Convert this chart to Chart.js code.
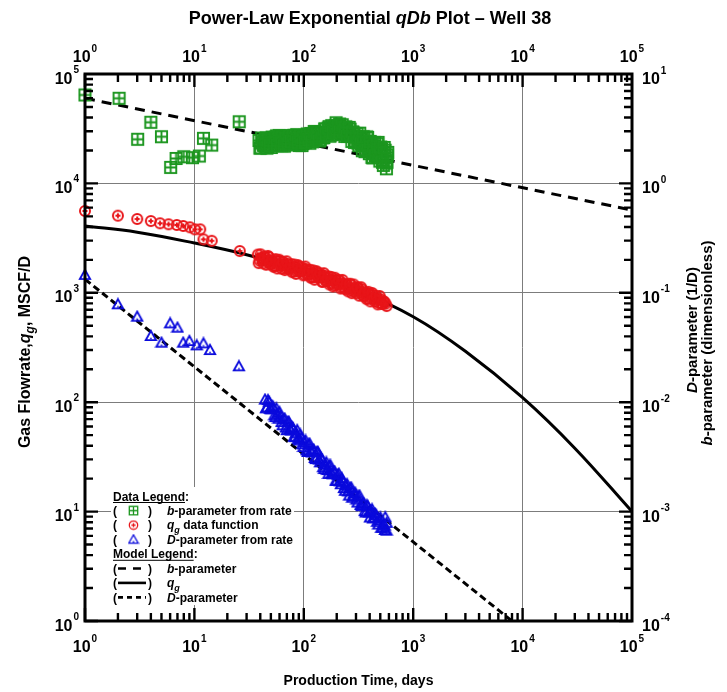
<!DOCTYPE html>
<html>
<head>
<meta charset="utf-8">
<script src="https://cdn.jsdelivr.net/npm/chart.js@4.4.1/dist/chart.umd.min.js"></script>
<style>
  html, body { margin: 0; padding: 0; background: #fff; }
  canvas { display: block; }
</style>
</head>
<body>
<canvas id="qdb" width="727" height="692"></canvas>
<script>
const FONT = "'Liberation Sans', Arial, Helvetica, sans-serif";
const GREEN = '#1c961f';
const RED = '#e81519';
const BLUE = '#0a0adc';

// q_g data function, MSCF/D (left axis)
const rateDays = [1, 2, 3, 4, 4.85, 5.8, 6.9, 7.9, 9.1, 10.1, 11.3, 12.1, 14.4, 26,
  38.0, 39.5, 41.1, 42.8, 44.5, 46.2, 48.1, 50.0, 52.0, 54.1,
  56.2, 58.5, 60.8, 63.2, 65.8, 68.4, 71.1, 74.0, 76.9, 80.0,
  83.2, 86.5, 89.9, 93.5, 97.2, 101.2, 105.2, 109.4, 113.8, 118.3,
  123.0, 127.9, 133.0, 138.4, 143.9, 149.6, 155.6, 161.8, 168.3, 175.0,
  182.0, 189.2, 196.8, 204.6, 212.8, 221.3, 230.1, 239.3, 248.9, 258.8,
  269.2, 279.9, 291.1, 302.7, 314.8, 327.3, 340.4, 354.0, 368.1, 382.8,
  398.1, 414.0, 430.5, 447.7, 465.6, 484.2, 503.5, 523.6, 544.5, 571.5,
  38.7, 40.3, 41.9, 43.6, 45.3, 47.1, 49.0, 51.0, 53.0, 55.1,
  57.3, 59.6, 62.0, 64.5, 67.1, 69.7, 72.5, 75.4, 78.4, 81.6,
  84.8, 88.2, 91.7, 95.3, 99.2, 103.2, 107.3, 111.6, 116.0, 120.6,
  125.4, 130.4, 135.7, 141.1, 146.7, 152.6, 158.7, 165.0, 171.6, 178.5,
  185.6, 193.0, 200.7, 208.7, 217.0, 225.7, 234.7, 244.1, 253.8, 264.0,
  274.5, 285.5, 296.8, 308.7, 321.0, 333.8, 347.1, 361.0, 375.4, 390.4,
  406.0, 422.2, 439.0, 456.6, 474.8, 493.8, 513.5, 534.0, 557.8];
const rateValues = [5600, 5070, 4730, 4530, 4320, 4230, 4170, 4080, 3970, 3800, 3800, 3080, 2990, 2410,
  2234, 1968, 2084, 1858, 2109, 1923, 2113, 1820, 1928, 1758,
  1950, 1778, 1950, 1660, 1820, 1679, 1845, 1702, 1824, 1570,
  1722, 1570, 1742, 1570, 1663, 1472, 1648, 1483, 1622, 1393,
  1507, 1384, 1531, 1377, 1455, 1265, 1432, 1288, 1409, 1225,
  1306, 1175, 1315, 1197, 1294, 1125, 1216, 1081, 1194, 1086,
  1189, 1033, 1104, 991, 1104, 1000, 1076, 931, 1002, 887,
  977, 885, 953, 834, 887, 813, 875, 793, 824, 757,
  1869, 2246, 2002, 2145, 1805, 2173, 1851, 1984, 1728, 2030,
  1669, 2007, 1788, 1917, 1613, 1941, 1654, 1772, 1544, 1813,
  1491, 1792, 1598, 1712, 1444, 1738, 1476, 1578, 1371, 1607,
  1317, 1578, 1403, 1500, 1259, 1510, 1282, 1371, 1191, 1395,
  1143, 1371, 1219, 1303, 1094, 1312, 1114, 1190, 1033, 1211,
  993, 1191, 1058, 1127, 942, 1125, 951, 1012, 875, 1021,
  834, 995, 881, 938, 783, 935, 791, 841, 796];

// b-parameter from rate, dimensionless (right axis)
const bDays = [1, 2.05, 3.03, 4.0, 5.0, 6.07, 6.8, 8.0, 9.6, 11.1, 12.1, 14.4, 25.7,
  39.0, 40.5, 42.0, 43.6, 45.2, 46.9, 48.6, 50.5, 52.4, 54.3,
  56.4, 58.5, 60.7, 63.0, 65.3, 67.8, 70.3, 72.9, 75.7, 78.5,
  81.5, 84.5, 87.7, 91.0, 94.4, 98.0, 101.6, 105.4, 109.4, 113.5,
  117.8, 122.2, 126.8, 131.5, 136.5, 141.6, 146.9, 152.4, 158.1, 164.1,
  170.2, 176.6, 183.2, 190.1, 197.2, 204.6, 212.3, 220.3, 228.6, 237.1,
  246.0, 255.3, 264.8, 274.8, 285.1, 295.8, 306.9, 318.4, 330.4, 342.8,
  355.6, 368.9, 382.8, 397.2, 412.1, 427.6, 443.6, 460.3, 477.5, 495.5,
  514.0, 533.3, 553.4, 568.9, 579.4, 575.4,
  39.7, 41.2, 42.8, 44.4, 46.0, 47.8, 49.5, 51.4, 53.3, 55.3,
  57.4, 59.6, 61.8, 64.1, 66.5, 69.0, 71.6, 74.3, 77.1, 80.0,
  83.0, 86.1, 89.3, 92.7, 96.2, 99.8, 103.5, 107.4, 111.4, 115.6,
  120.0, 124.5, 129.1, 134.0, 139.0, 144.2, 149.6, 155.2, 161.1, 167.1,
  173.4, 179.9, 186.6, 193.6, 200.9, 208.4, 216.3, 224.4, 232.8, 241.5,
  250.6, 260.0, 269.8, 279.9, 290.4, 301.3, 312.6, 324.3, 336.5, 349.1,
  362.2, 375.8, 389.9, 404.6, 419.8, 435.5, 451.9, 468.8, 486.4, 504.7,
  523.6, 543.3, 563.6, 584.8];
const bValues = [6.43, 6.0, 2.53, 3.62, 2.67, 1.40, 1.69, 1.75, 1.72, 1.78, 2.58, 2.24, 3.66,
  2.47, 2.11, 2.38, 2.23, 2.61, 2.18, 2.49, 2.13, 2.60, 2.36,
  2.72, 2.28, 2.54, 2.21, 2.69, 2.35, 2.61, 2.25, 2.53, 2.31,
  2.75, 2.40, 2.67, 2.22, 2.61, 2.31, 2.75, 2.42, 2.72, 2.33,
  2.68, 2.47, 2.96, 2.61, 2.92, 2.51, 2.92, 2.63, 3.14, 2.81,
  3.30, 2.77, 3.21, 2.94, 3.58, 2.96, 3.49, 2.85, 3.22, 2.69,
  3.22, 2.79, 3.13, 2.42, 2.89, 2.39, 2.86, 2.21, 2.58, 1.99,
  2.62, 2.04, 2.63, 1.87, 2.25, 1.71, 2.37, 1.80, 2.37, 1.60,
  2.06, 1.46, 2.01, 1.36, 1.82, 1.56,
  2.10, 2.60, 2.23, 2.54, 2.10, 2.48, 2.22, 2.65, 2.35, 2.65,
  2.22, 2.74, 2.34, 2.66, 2.19, 2.58, 2.30, 2.74, 2.42, 2.72,
  2.26, 2.79, 2.38, 2.71, 2.22, 2.62, 2.36, 2.83, 2.52, 2.86,
  2.40, 2.98, 2.56, 2.94, 2.44, 2.90, 2.61, 3.15, 2.81, 3.21,
  2.70, 3.37, 2.92, 3.36, 2.80, 3.34, 2.94, 3.44, 2.98, 3.29,
  2.69, 3.25, 2.69, 2.96, 2.37, 2.70, 2.34, 2.88, 2.29, 2.67,
  1.95, 2.66, 2.01, 2.42, 1.73, 2.19, 1.79, 2.30, 1.83, 2.15,
  1.56, 2.13, 1.61, 1.92];

// D-parameter from rate, 1/D (right axis)
const dDays = [1, 2.0, 3.0, 4.0, 5.0, 6.0, 7.0, 7.9, 9.0, 10.5, 12.1, 13.9, 25.5,
  44.2, 46.1, 48.2, 50.4, 52.6, 55.0, 57.4, 60.0, 62.7, 65.5,
  68.4, 71.4, 74.6, 78.0, 81.5, 85.1, 88.9, 92.9, 97.0, 101.4,
  105.9, 110.7, 115.6, 120.8, 126.2, 131.8, 137.7, 143.9, 150.3, 157.0,
  164.1, 171.4, 179.1, 187.1, 195.4, 204.2, 213.3, 222.8, 232.8, 243.2,
  254.1, 265.5, 277.3, 289.7, 302.7, 316.2, 330.4, 345.1, 360.6, 376.7,
  393.6, 411.1, 429.5, 448.7, 468.8, 489.8, 511.7, 534.6, 552.1, 556, 571,
  45.1, 47.1, 49.2, 51.5, 53.8, 56.2, 58.7, 61.3, 64.1, 67.0,
  70.0, 73.1, 76.4, 79.8, 83.4, 87.1, 91.0, 95.1, 99.3, 103.8,
  108.4, 113.3, 118.3, 123.6, 129.2, 134.9, 141.0, 147.3, 153.9, 160.8,
  168.0, 175.5, 183.3, 191.5, 200.1, 209.1, 218.4, 228.2, 238.4, 249.0,
  260.2, 271.8, 284.0, 296.7, 309.9, 323.8, 338.3, 353.4, 369.2, 385.7,
  403.0, 421.0, 439.8, 459.5, 480.1, 501.6, 524.0, 547.4, 571.9];
const dValues = [0.146, 0.0785, 0.0605, 0.0403, 0.035, 0.0526, 0.048, 0.035, 0.0363, 0.0331, 0.0345, 0.030, 0.0213,
  0.01057, 0.00899, 0.01009, 0.00859, 0.00899, 0.00731, 0.00783, 0.00811, 0.00659, 0.00698,
  0.00587, 0.00661, 0.00569, 0.00589, 0.00484, 0.00525, 0.00462, 0.00507, 0.00412, 0.00432,
  0.00363, 0.00412, 0.00355, 0.00367, 0.00309, 0.00351, 0.00299, 0.00309, 0.00254, 0.00272,
  0.00240, 0.00264, 0.00222, 0.00232, 0.00191, 0.00217, 0.00189, 0.00202, 0.00164, 0.00174,
  0.00153, 0.00164, 0.00134, 0.00147, 0.00129, 0.00138, 0.00115, 0.00119, 0.00101, 0.00114,
  0.00098, 0.00102, 0.000865, 0.000959, 0.000807, 0.000836, 0.000711, 0.000771, 0.000679, 0.000889, 0.00067,
  0.00879, 0.01045, 0.00869, 0.00920, 0.00757, 0.00879, 0.00706, 0.00740, 0.00615, 0.00706,
  0.00555, 0.00661, 0.00550, 0.00582, 0.00479, 0.00556, 0.00447, 0.00468, 0.00389, 0.00447,
  0.00351, 0.00417, 0.00347, 0.00367, 0.00302, 0.00351, 0.00282, 0.00295, 0.00245, 0.00282,
  0.00221, 0.00264, 0.00219, 0.00232, 0.00191, 0.00222, 0.00178, 0.00187, 0.00155, 0.00178,
  0.00140, 0.00166, 0.00138, 0.00147, 0.00121, 0.00140, 0.00112, 0.00118, 0.00098, 0.00112,
  0.000883, 0.00105, 0.000875, 0.000927, 0.000762, 0.000885, 0.000711, 0.000745, 0.000789];

// Power-law exponential model curves
const qModelDays = [1, 3, 10, 30, 100, 300, 1000, 3000, 10000, 30000, 100000];
const qModelRate = [4080, 3580, 2850, 2230, 1590, 1070, 604, 292, 110, 38, 10];
const bModelDays = [1, 100000];
const bModelValue = [6.0, 0.57];
const dModelDays = [1, 8000];
const dModelValue = [0.133, 0.0001];

// Decade labels (powers of ten) for each axis
const timeTickExponents = [0, 1, 2, 3, 4, 5];
const rateTickExponents = [0, 1, 2, 3, 4, 5];
const paramTickExponents = [-4, -3, -2, -1, 0, 1];

function pairs(xs, ys) {
  return xs.map((x, i) => ({ x: x, y: ys[i] }));
}

// Marker glyphs: open square with cross, open circle with plus, open triangle with dot
function makeMarker(kind, size, lw) {
  const c = document.createElement('canvas');
  c.width = size; c.height = size;
  const g = c.getContext('2d');
  const m = size / 2;
  g.lineWidth = lw;
  if (kind === 'square') {
    const h = m - lw;
    g.strokeStyle = GREEN;
    g.strokeRect(m - h, m - h, 2 * h, 2 * h);
    g.beginPath();
    g.moveTo(m, m - h); g.lineTo(m, m + h);
    g.moveTo(m - h, m); g.lineTo(m + h, m);
    g.stroke();
  } else if (kind === 'circle') {
    const r = m - lw;
    g.strokeStyle = RED;
    g.beginPath(); g.arc(m, m, r, 0, Math.PI * 2); g.stroke();
    const p = r * 0.5;
    g.beginPath();
    g.moveTo(m - p, m); g.lineTo(m + p, m);
    g.moveTo(m, m - p); g.lineTo(m, m + p);
    g.stroke();
  } else {
    const t = lw;
    g.strokeStyle = BLUE;
    g.beginPath();
    g.moveTo(m, t); g.lineTo(size - t, size - t - 1); g.lineTo(t, size - t - 1); g.closePath();
    g.stroke();
    g.fillStyle = BLUE;
    g.fillRect(m - 0.75, size * 0.62, 1.5, 1.5);
  }
  return c;
}

const squareMark = makeMarker('square', 15, 1.9);
const circleMark = makeMarker('circle', 14, 2.0);
const triangleMark = makeMarker('triangle', 14, 1.9);
const squareKey = makeMarker('square', 11, 1.3);
const circleKey = makeMarker('circle', 11, 1.3);
const triangleKey = makeMarker('triangle', 12, 1.3);

function fontFor(size, italic) {
  return (italic ? 'italic ' : '') + 'bold ' + size + 'px ' + FONT;
}

// parts: [text, italic, subscript]
function richWidth(ctx, parts, size) {
  let w = 0;
  parts.forEach(p => {
    ctx.font = fontFor(p[2] ? Math.round(size * 0.72) : size, p[1]);
    w += ctx.measureText(p[0]).width;
  });
  return w;
}
function drawRich(ctx, parts, x, y, size, align) {
  const total = richWidth(ctx, parts, size);
  let cx = align === 'center' ? x - total / 2 : x;
  ctx.textAlign = 'left';
  ctx.textBaseline = 'alphabetic';
  parts.forEach(p => {
    const s = p[2] ? Math.round(size * 0.72) : size;
    ctx.font = fontFor(s, p[1]);
    ctx.fillText(p[0], cx, y + (p[2] ? size * 0.28 : 0));
    cx += ctx.measureText(p[0]).width;
  });
  return total;
}

// "10" with a raised exponent
function drawPow(ctx, exp, x, y, align) {
  const base = '10';
  const sup = exp < 0 ? '-' + Math.abs(exp) : String(exp);
  ctx.textBaseline = 'alphabetic';
  ctx.textAlign = 'left';
  ctx.font = fontFor(16, false);
  const wb = ctx.measureText(base).width;
  ctx.font = fontFor(10, false);
  const ws = ctx.measureText(sup).width;
  const total = wb + 1 + ws;
  let sx = x;
  if (align === 'center') sx = x - total / 2;
  else if (align === 'right') sx = x - total;
  ctx.font = fontFor(16, false);
  ctx.fillText(base, sx, y);
  ctx.font = fontFor(10, false);
  ctx.fillText(sup, sx + wb + 1, y - 10.5);
}

const legendRows = [
  { type: 'header', parts: [['Data Legend', false, false]] },
  { type: 'mark', mark: squareKey, parts: [['b', true, false], ['-parameter from rate', false, false]] },
  { type: 'mark', mark: circleKey, parts: [['q', true, false], ['g', true, true], [' data function', false, false]] },
  { type: 'mark', mark: triangleKey, parts: [['D', true, false], ['-parameter from rate', false, false]] },
  { type: 'header', parts: [['Model Legend', false, false]] },
  { type: 'line', dash: [8, 7], parts: [['b', true, false], ['-parameter', false, false]] },
  { type: 'line', dash: [], parts: [['q', true, false], ['g', true, true]] },
  { type: 'line', dash: [5, 4], parts: [['D', true, false], ['-parameter', false, false]] }
];

function drawLegend(ctx) {
  ctx.save();
  ctx.fillStyle = '#fff';
  ctx.fillRect(111, 487, 183, 118);
  ctx.fillStyle = '#000';
  ctx.strokeStyle = '#000';
  const x0 = 113;
  legendRows.forEach((row, i) => {
    const base = 500.5 + i * 14.45;
    const mid = base - 4.3;
    if (row.type === 'header') {
      const w = drawRich(ctx, row.parts, x0, base, 12, 'left');
      ctx.font = fontFor(12, false);
      ctx.fillText(':', x0 + w, base);
      ctx.lineWidth = 1;
      ctx.beginPath(); ctx.moveTo(x0, base + 2); ctx.lineTo(x0 + w, base + 2); ctx.stroke();
      return;
    }
    ctx.font = fontFor(12, false);
    ctx.fillText('(', x0, base);
    ctx.fillText(')', 148, base);
    if (row.type === 'mark') {
      ctx.drawImage(row.mark, 133.5 - row.mark.width / 2, mid - row.mark.height / 2);
    } else {
      ctx.save();
      ctx.lineWidth = 2.6;
      ctx.setLineDash(row.dash);
      ctx.beginPath(); ctx.moveTo(118, mid); ctx.lineTo(146, mid); ctx.stroke();
      ctx.restore();
    }
    drawRich(ctx, row.parts, 167, base, 12, 'left');
  });
  ctx.restore();
}

const framePlugin = {
  id: 'qdbFrame',
  afterDraw(chart) {
    const ctx = chart.ctx;
    const a = chart.chartArea;
    const xs = chart.scales.x, ys = chart.scales.y, ys2 = chart.scales.y2;
    drawLegend(ctx);

    ctx.save();
    ctx.strokeStyle = '#000';
    ctx.lineWidth = 2.4;
    ctx.beginPath();
    for (let e = 0; e < 5; e++) {
      for (let m = 1; m <= 9; m++) {
        const v = m * Math.pow(10, e);
        const len = m === 1 ? 13 : 8;
        const px = xs.getPixelForValue(v);
        ctx.moveTo(px, a.bottom); ctx.lineTo(px, a.bottom - len);
        ctx.moveTo(px, a.top); ctx.lineTo(px, a.top + len);
        const py = ys.getPixelForValue(v);
        ctx.moveTo(a.left, py); ctx.lineTo(a.left + len, py);
        const py2 = ys2.getPixelForValue(v * 1e-4);
        ctx.moveTo(a.right, py2); ctx.lineTo(a.right - len, py2);
      }
    }
    ctx.stroke();
    ctx.lineWidth = 3;
    ctx.strokeRect(a.left, a.top, a.right - a.left, a.bottom - a.top);

    ctx.fillStyle = '#000';
    timeTickExponents.forEach(e => {
      const px = xs.getPixelForValue(Math.pow(10, e));
      drawPow(ctx, e, px, a.bottom + 31, 'center');
      drawPow(ctx, e, px, a.top - 12, 'center');
    });
    rateTickExponents.forEach(e => {
      const py = ys.getPixelForValue(Math.pow(10, e));
      drawPow(ctx, e, a.left - 6, py + 9.5, 'right');
    });
    paramTickExponents.forEach(e => {
      const py = ys2.getPixelForValue(Math.pow(10, e));
      drawPow(ctx, e, a.right + 10, py + 10, 'left');
    });

    // chart title
    drawRich(ctx, [['Power-Law Exponential ', false, false], ['qDb', true, false], [' Plot \u2013 Well 38', false, false]],
      370, 24, 18, 'center');

    // bottom axis title
    drawRich(ctx, [['Production Time, days', false, false]], (a.left + a.right) / 2, 685, 14, 'center');

    // left axis title
    ctx.save();
    ctx.translate(30, 352);
    ctx.rotate(-Math.PI / 2);
    drawRich(ctx, [['Gas Flowrate,', false, false], ['q', true, false], ['g', true, true], [', MSCF/D', false, false]], 0, 0, 16, 'center');
    ctx.restore();

    // right axis title (two lines)
    ctx.save();
    ctx.translate(697, 330);
    ctx.rotate(-Math.PI / 2);
    drawRich(ctx, [['D', true, false], ['-parameter (1/D)', false, false]], 0, 0, 15, 'center');
    ctx.restore();
    ctx.save();
    ctx.translate(712, 343);
    ctx.rotate(-Math.PI / 2);
    drawRich(ctx, [['b', true, false], ['-parameter (dimensionless)', false, false]], 0, 0, 15, 'center');
    ctx.restore();

    ctx.restore();
  }
};

const decadeValues = [1, 10, 100, 1000, 10000, 100000];

new Chart(document.getElementById('qdb'), {
  type: 'scatter',
  data: {
    datasets: [
      { label: 'b-parameter from rate', data: pairs(bDays, bValues), yAxisID: 'y2',
        pointStyle: squareMark, pointRadius: 6, pointHoverRadius: 6, showLine: false, clip: false },
      { label: 'qg data function', data: pairs(rateDays, rateValues), yAxisID: 'y',
        pointStyle: circleMark, pointRadius: 6, pointHoverRadius: 6, showLine: false, clip: false },
      { label: 'D-parameter from rate', data: pairs(dDays, dValues), yAxisID: 'y2',
        pointStyle: triangleMark, pointRadius: 6, pointHoverRadius: 6, showLine: false, clip: false },
      { label: 'b-parameter', data: pairs(bModelDays, bModelValue), yAxisID: 'y2', showLine: true,
        borderColor: '#000', borderWidth: 3, borderDash: [10, 7], pointRadius: 0, pointHoverRadius: 0 },
      { label: 'qg', data: pairs(qModelDays, qModelRate), yAxisID: 'y', showLine: true,
        borderColor: '#000', borderWidth: 3, tension: 0.4, pointRadius: 0, pointHoverRadius: 0 },
      { label: 'D-parameter', data: pairs(dModelDays, dModelValue), yAxisID: 'y2', showLine: true,
        borderColor: '#000', borderWidth: 3, borderDash: [7, 4], pointRadius: 0, pointHoverRadius: 0 }
    ]
  },
  options: {
    responsive: false,
    animation: false,
    events: [],
    layout: { padding: { left: 85, right: 95, top: 74, bottom: 71 } },
    plugins: { legend: { display: false }, tooltip: { enabled: false }, title: { display: false } },
    scales: {
      x: {
        type: 'logarithmic', position: 'bottom', min: 1, max: 100000,
        afterBuildTicks: s => { s.ticks = decadeValues.map(v => ({ value: v })); },
        afterFit: s => { s.height = 0; },
        ticks: { display: false },
        grid: { color: '#7c7c7c', lineWidth: 1, drawTicks: false },
        border: { display: false }
      },
      y: {
        type: 'logarithmic', position: 'left', min: 1, max: 100000,
        afterBuildTicks: s => { s.ticks = decadeValues.map(v => ({ value: v })); },
        afterFit: s => { s.width = 0; },
        ticks: { display: false },
        grid: { color: '#7c7c7c', lineWidth: 1, drawTicks: false },
        border: { display: false }
      },
      y2: {
        type: 'logarithmic', position: 'right', min: 0.0001, max: 10,
        afterFit: s => { s.width = 0; },
        ticks: { display: false },
        grid: { display: false, drawTicks: false },
        border: { display: false }
      }
    }
  },
  plugins: [framePlugin]
});
</script>
</body>
</html>
